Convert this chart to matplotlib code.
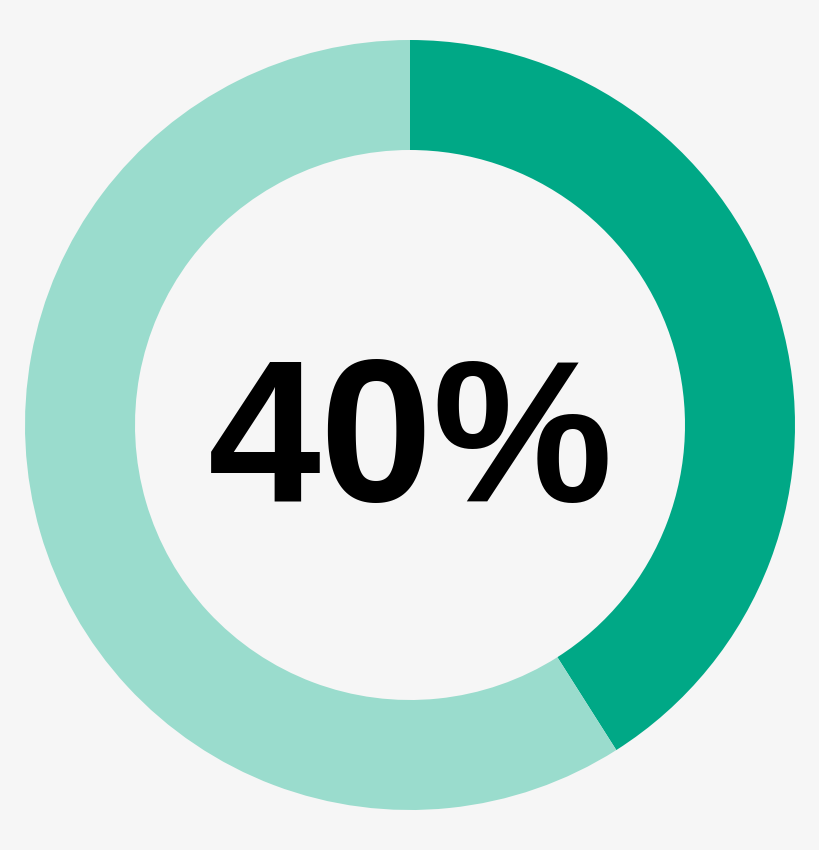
import matplotlib
matplotlib.use("Agg")
import matplotlib.pyplot as plt

labels = ["Done", "Remaining"]
values = [41, 59]          # arc as drawn in the reference (~148 degrees)
colors = ["#00A886", "#9ADCCD"]
center_text = "40%"

fig = plt.figure(figsize=(8.2, 8.5), dpi=100)
fig.patch.set_facecolor("#F6F6F6")
ax = fig.add_axes([0, 0, 1, 1])
ax.set_facecolor("#F6F6F6")

ax.pie(values, colors=colors, startangle=90, counterclock=False,
       center=(410, 425), radius=385, frame=True,
       wedgeprops=dict(width=110, linewidth=0, antialiased=True))
ax.set_xlim(0, 820)
ax.set_ylim(0, 850)
ax.axis("off")

ax.text(411, 349, center_text, ha="center", va="baseline", fontsize=146,
        fontweight="bold", family=["Liberation Sans", "DejaVu Sans"], color="black")

fig.savefig("out.png", dpi=100, facecolor=fig.get_facecolor())
